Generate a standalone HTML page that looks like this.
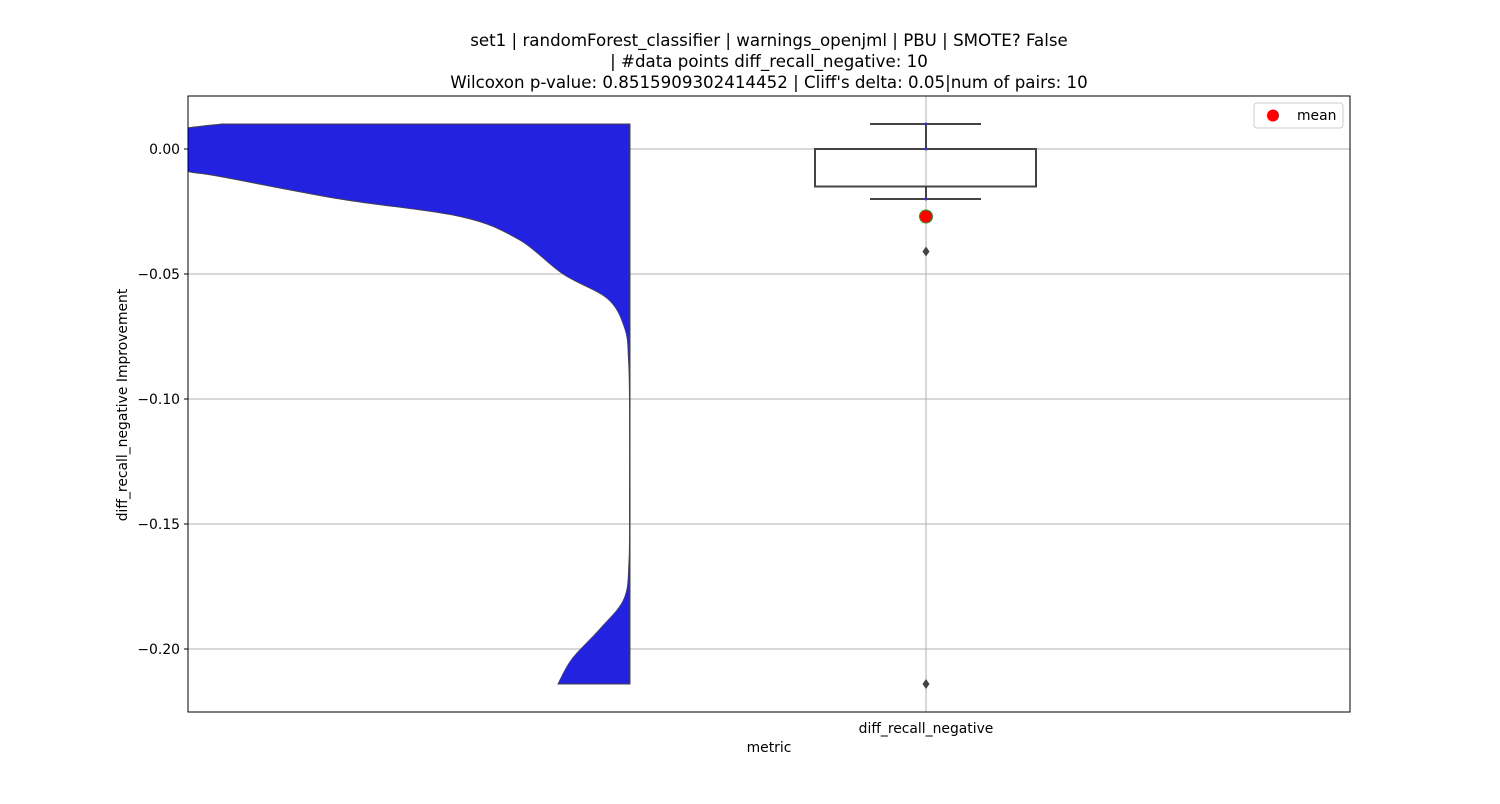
<!DOCTYPE html>
<html><head><meta charset="utf-8"><style>
body{margin:0;background:#fff;font-family:"DejaVu Sans","Liberation Sans",sans-serif;}
</style></head><body>
<svg width="1500" height="800" viewBox="0 0 1500 800" id="chart" font-family="DejaVu Sans, Liberation Sans, sans-serif">
<rect width="1500" height="800" fill="#fff"/>
<g font-size="16.67" text-anchor="middle" fill="#000">
<text x="769" y="46">set1 | randomForest_classifier | warnings_openjml | PBU | SMOTE? False</text>
<text x="769" y="67">| #data points diff_recall_negative: 10</text>
<text x="769" y="88">Wilcoxon p-value: 0.8515909302414452 | Cliff's delta: 0.05|num of pairs: 10</text>
</g>
<defs><clipPath id="pc"><rect x="188" y="96" width="1162" height="616"/></clipPath></defs>
<g id="grid"></g>
<g id="violin" clip-path="url(#pc)"></g>
<g id="box"></g>
<rect x="188" y="96" width="1162" height="616" fill="none" stroke="#000" stroke-width="1"/>
<g id="yticks" font-size="13.9"></g>
<text x="926" y="733" font-size="13.9" text-anchor="middle">diff_recall_negative</text>
<text x="769" y="752" font-size="13.9" text-anchor="middle">metric</text>
<text transform="translate(127,405) rotate(-90)" font-size="13.9" text-anchor="middle">diff_recall_negative Improvement</text>
<g>
<rect x="1254" y="103" width="89" height="25" rx="3" fill="#fff" stroke="#ccc"/>
<circle cx="1273" cy="115.5" r="6" fill="#ff0000"/>
<text x="1297" y="120" font-size="13.9">mean</text>
</g>
</svg>
<script>
const yTicks=[0,-0.05,-0.10,-0.15,-0.20];
const yTickLabels=["0.00","\u22120.05","\u22120.10","\u22120.15","\u22120.20"];
const violinVals=[0.01,0.008,0.005,0,-0.005,-0.009,-0.011,-0.02,-0.027,-0.036,-0.05,-0.06,-0.072,-0.084,-0.1,-0.14,-0.165,-0.18,-0.192,-0.204,-0.214];
const violinDensity=[408,450,480,500,470,442,410,290,170,112,67,22,5,1.5,0.5,0.5,1,6,30,58,72];
const boxStats={whiskerHigh:0.01,q3:0,median:0,q1:-0.015,whiskerLow:-0.02};
const outliers=[-0.041,-0.214];
const pointsVals=[0.01,0,-0.02];
const meanVal=-0.027;
const NS="http://www.w3.org/2000/svg";
const Y0=149,PX=2500,L=188,R=1350,CX=926;
const y=v=>Y0-v*PX;
function mk(tag,attrs,parent){const e=document.createElementNS(NS,tag);for(const k in attrs)e.setAttribute(k,attrs[k]);parent.appendChild(e);return e;}
const grid=document.getElementById('grid'),yt=document.getElementById('yticks');
yTicks.forEach((t,i)=>{
 const g=mk('line',{x1:L,x2:R,y1:y(t),y2:y(t),stroke:'#b0b0b0','stroke-width':1},grid);
 
 
 mk('line',{x1:L-4,x2:L,y1:y(t),y2:y(t),stroke:'#000'},yt);
 const tx=mk('text',{x:L-8,y:y(t)+4.8,'text-anchor':'end'},yt);tx.textContent=yTickLabels[i];
 
 
});
const vg=mk('line',{x1:CX,x2:CX,y1:96,y2:712,stroke:'#b0b0b0'},grid);


const RE=630;
const pts=violinVals.map((v,i)=>[RE-violinDensity[i],y(v)]);
let d=`M${RE},${y(violinVals[0])} L${pts[0][0]},${pts[0][1]}`;
for(let i=0;i<pts.length-1;i++){const p0=pts[Math.max(0,i-1)],p1=pts[i],p2=pts[i+1],p3=pts[Math.min(pts.length-1,i+2)];
 d+=` C${p1[0]+(p2[0]-p0[0])/6},${p1[1]+(p2[1]-p0[1])/6} ${p2[0]-(p3[0]-p1[0])/6},${p2[1]-(p3[1]-p1[1])/6} ${p2[0]},${p2[1]}`;}
d+=` L${RE},${pts[pts.length-1][1]} Z`;
const vp=mk('path',{d:d,fill:'#2222e0',stroke:'#444','stroke-width':1},document.getElementById('violin'));


const bg=document.getElementById('box');const c='#444';
mk('line',{x1:CX,x2:CX,y1:y(boxStats.whiskerHigh),y2:y(boxStats.q3),stroke:c,'stroke-width':2},bg);
mk('line',{x1:CX,x2:CX,y1:y(boxStats.q1),y2:y(boxStats.whiskerLow),stroke:c,'stroke-width':2},bg);
mk('line',{x1:870,x2:981,y1:y(boxStats.whiskerHigh),y2:y(boxStats.whiskerHigh),stroke:c,'stroke-width':2},bg);
mk('line',{x1:870,x2:981,y1:y(boxStats.whiskerLow),y2:y(boxStats.whiskerLow),stroke:c,'stroke-width':2},bg);
const br=mk('rect',{x:815,y:y(boxStats.q3),width:221,height:y(boxStats.q1)-y(boxStats.q3),fill:'none',stroke:c,'stroke-width':2},bg);


mk('line',{x1:815,x2:1036,y1:y(boxStats.median),y2:y(boxStats.median),stroke:c,'stroke-width':2},bg);
pointsVals.forEach(v=>{const p=mk('circle',{cx:CX,cy:y(v),r:1.5,fill:'#33c'},bg);
 
 });
outliers.forEach(v=>{const o=mk('path',{d:`M${CX},${y(v)-5} L${CX+3.5},${y(v)} L${CX},${y(v)+5} L${CX-3.5},${y(v)} Z`,fill:c},bg);
 
 });
const m=mk('circle',{cx:CX,cy:y(meanVal),r:6.5,fill:'#ff0000',stroke:'#2a9a2a','stroke-width':1},bg);


</script>
</body></html>
